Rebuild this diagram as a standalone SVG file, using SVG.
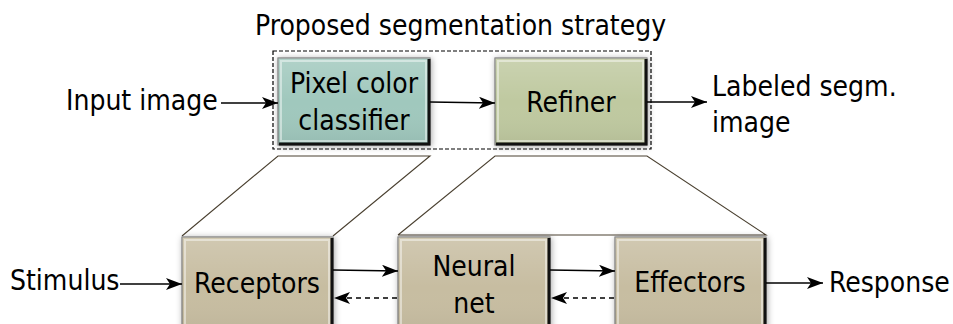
<svg xmlns="http://www.w3.org/2000/svg" width="953" height="324" viewBox="0 0 953 324">
<style>
text{font-family:"DejaVu Sans Condensed","DejaVu Sans",sans-serif;font-size:28px;fill:#000}
.c{text-anchor:middle}
.ln{stroke:#000;stroke-width:1.5;fill:none}
.dl{stroke:#000;stroke-width:1.3;fill:none;stroke-dasharray:5,4}
.tr{stroke:#4a4030;stroke-width:1.1;fill:none}
.box{stroke:#7a7a7a;stroke-width:1.2}
.edge{stroke:#111;stroke-width:3;fill:none}
.hl{stroke:#fff;stroke-opacity:0.45;stroke-width:2;fill:none}
</style>
<defs>
<filter id="sh" x="-20%" y="-20%" width="140%" height="140%">
<feDropShadow dx="1" dy="1" stdDeviation="3" flood-color="#000" flood-opacity="0.35"/>
</filter>
<linearGradient id="gl" x1="0" y1="0" x2="0" y2="1">
<stop offset="0" stop-color="#fff" stop-opacity="0.18"/>
<stop offset="0.5" stop-color="#fff" stop-opacity="0"/>
<stop offset="1" stop-color="#000" stop-opacity="0.06"/>
</linearGradient>
<marker id="ah" viewBox="0 0 16 12" refX="16" refY="6" markerWidth="16" markerHeight="12" markerUnits="userSpaceOnUse" orient="auto">
<path d="M0,0 L16,6 L0,12 L4,6 Z" fill="#000"/>
</marker>
</defs>

<text id="title" x="255" y="35">Proposed segmentation strategy</text>
<rect id="strategy" x="273" y="51" width="378" height="98" fill="none" stroke="#000" stroke-width="1.2" stroke-dasharray="4,2"/>

<g id="trapezoids">
<path class="tr" d="M182,236 L278,156 L430,156 L333,236"/>
<path class="tr" d="M398,235 L495,156 L647,156 L766,235 L398,235"/>
</g>

<g id="classifier">
<rect class="box" x="278" y="58" width="152" height="87" fill="#a0c8bd" filter="url(#sh)"/>
<rect x="278" y="58" width="152" height="87" fill="url(#gl)"/>
<rect class="hl" x="281" y="61" width="145" height="80"/>
<path class="edge" d="M429,59 V144 H279"/>
<text class="c" x="354" y="93">Pixel color</text>
<text class="c" x="354" y="130">classifier</text>
</g>

<g id="refiner">
<rect class="box" x="495" y="58" width="152" height="87" fill="#bfc9a0" filter="url(#sh)"/>
<rect x="495" y="58" width="152" height="87" fill="url(#gl)"/>
<rect class="hl" x="498" y="61" width="145" height="80"/>
<path class="edge" d="M646,59 V144 H496"/>
<text class="c" x="571" y="112">Refiner</text>
</g>

<g id="receptors">
<rect class="box" x="182" y="237" width="151" height="100" fill="#c7bda1" filter="url(#sh)"/>
<rect x="182" y="237" width="151" height="100" fill="url(#gl)"/>
<rect class="hl" x="185" y="240" width="144" height="95"/>
<path class="edge" d="M332,238 V330"/>
<text class="c" x="257" y="293">Receptors</text>
</g>

<g id="neural">
<rect class="box" x="398" y="237" width="152" height="100" fill="#c7bda1" filter="url(#sh)"/>
<rect x="398" y="237" width="152" height="100" fill="url(#gl)"/>
<rect class="hl" x="401" y="240" width="145" height="95"/>
<path class="edge" d="M549,238 V330"/>
<text class="c" x="474" y="276">Neural</text>
<text class="c" x="474" y="313">net</text>
</g>

<g id="effectors">
<rect class="box" x="615" y="237" width="151" height="100" fill="#c7bda1" filter="url(#sh)"/>
<rect x="615" y="237" width="151" height="100" fill="url(#gl)"/>
<rect class="hl" x="618" y="240" width="144" height="95"/>
<path class="edge" d="M765,238 V330"/>
<text class="c" x="690" y="292">Effectors</text>
</g>

<g id="labels">
<text x="66" y="110">Input image</text>
<text x="712" y="96">Labeled segm.</text>
<text x="712" y="132">image</text>
<text x="10" y="290">Stimulus</text>
<text x="829" y="292">Response</text>
</g>

<g id="connectors">
<line class="ln" x1="221" y1="103" x2="278" y2="103" marker-end="url(#ah)"/>
<line class="ln" x1="430" y1="102" x2="495" y2="103" marker-end="url(#ah)"/>
<line class="ln" x1="647" y1="102" x2="707" y2="102" marker-end="url(#ah)"/>
<line class="ln" x1="120" y1="284" x2="182" y2="284" marker-end="url(#ah)"/>
<line class="ln" x1="333" y1="270" x2="398" y2="271" marker-end="url(#ah)"/>
<line class="dl" x1="397" y1="298" x2="334" y2="298" marker-end="url(#ah)"/>
<line class="ln" x1="550" y1="270" x2="615" y2="271" marker-end="url(#ah)"/>
<line class="dl" x1="614" y1="298" x2="551" y2="298" marker-end="url(#ah)"/>
<line class="ln" x1="766" y1="283" x2="823" y2="283" marker-end="url(#ah)"/>
</g>
</svg>
